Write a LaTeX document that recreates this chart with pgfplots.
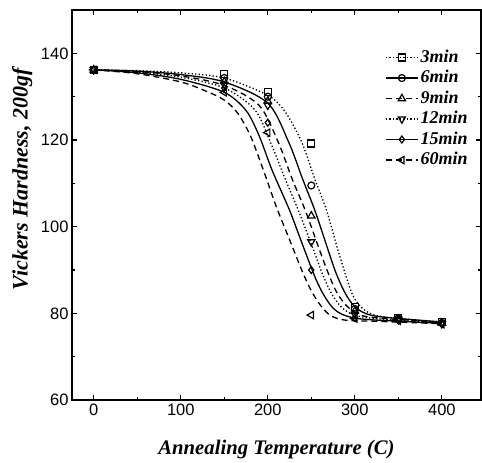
\documentclass[border=0pt]{standalone}
\usepackage{pgfplots}
\pgfplotsset{compat=1.18}
\usepackage{fontspec}
\setmainfont{Liberation Serif}
\newfontfamily\tickfont{Liberation Sans}
\tikzset{
  dotc/.style={line width=1.3pt, dash pattern=on 1.3pt off 2.2pt},
  dashc/.style={line width=1.3pt, dash pattern=on 6pt off 4pt},
  solc/.style={line width=1.3pt, solid},
}
\begin{document}
\begin{tikzpicture}
\path[use as bounding box] (0,0) rectangle (482pt,463pt);
\begin{axis}[
 at={(72pt,63pt)}, anchor=south west,
 scale only axis, width=409pt, height=390pt,
 xmin=-25, xmax=445, ymin=60, ymax=150,
 xtick={0,100,200,300,400}, ytick={60,80,100,120,140},
 minor x tick num=1, minor y tick num=1,
 tick align=inside, tick pos=both,
 major tick length=5pt, minor tick length=3pt,
 axis line style={line width=1.6pt},
 every tick/.style={line width=1.2pt, black},
 ticklabel style={font=\tickfont\fontsize{16.5}{18}\selectfont},
 /pgf/number format/assume math mode=true,
 xlabel={Annealing Temperature (C)}, ylabel={Vickers Hardness, 200gf},
 xlabel style={font=\fontsize{20.7}{22}\selectfont\bfseries\itshape, at={(axis description cs:0.5,-0.128)}, anchor=center},
 ylabel style={font=\fontsize{22}{24}\selectfont\bfseries\itshape, at={(axis description cs:-0.122,0.566)}, anchor=center},
 legend style={draw=none, fill=none, at={(axis description cs:0.758,0.91)}, anchor=north west,
   font=\fontsize{18}{20}\selectfont\bfseries\itshape,
   nodes={inner sep=2pt, text height=13pt, text depth=3.5pt}, row sep=0pt},
 legend cell align=left,
 legend image code/.code={\draw[mark repeat=2,mark phase=2,#1] plot coordinates {(0pt,0pt) (16pt,0pt) (32pt,0pt)};},
 every axis plot/.append style={black},
 mark size=3.5pt,
]
\addlegendimage{dotc, mark=square, mark options={solid, line width=1.2pt, fill=white}}
\addlegendentry{3min}
\addlegendimage{solc, mark=o, mark options={solid, line width=1.2pt, fill=white}}
\addlegendentry{6min}
\addlegendimage{dashc, mark=triangle, mark options={solid, line width=1.2pt, fill=white, scale=1.2}}
\addlegendentry{9min}
\addlegendimage{dotc, mark=triangle, mark options={solid, rotate=180, line width=1.2pt, fill=white, scale=1.2}}
\addlegendentry{12min}
\addlegendimage{solc, mark=diamond, mark options={solid, line width=1.2pt, fill=white}}
\addlegendentry{15min}
\addlegendimage{dashc, mark=triangle, mark options={solid, rotate=90, line width=1.2pt, fill=white, scale=1.2}}
\addlegendentry{60min}

% fitted curves
\addplot[dotc, smooth, forget plot] coordinates {(0,136.2) (50,136) (100,135.5) (150,134.3) (200,130.3) (220,126.5) (239,119.5) (254,111) (267.5,103.8) (280,95) (290,88.5) (298,84) (308,81.3) (320,79.8) (340,79) (400,78)};
\addplot[solc, smooth, forget plot] coordinates {(0,136.2) (50,135.9) (100,135.1) (150,133.4) (200,128.5) (224,119.5) (240,111) (254,103.8) (267,96) (278,89.5) (288,85) (297,82.2) (307,80.5) (320,79.5) (345,78.9) (400,78)};
\addplot[dashc, smooth, forget plot] coordinates {(0,136.2) (50,135.8) (100,134.8) (150,132.6) (190,128) (212,119.5) (228,111) (243,103.8) (257,96) (268,90) (278,85.3) (288,82.3) (298,80.5) (310,79.4) (335,78.8) (400,77.9)};
\addplot[dotc, smooth, forget plot] coordinates {(0,136.2) (50,135.7) (100,134.5) (150,132) (185,127) (203,119.5) (220,111) (235,103.8) (250,96) (262,89.5) (272,85) (282,82) (292,80.3) (305,79.3) (330,78.7) (400,77.8)};
\addplot[solc, smooth, forget plot] coordinates {(0,136.2) (50,135.5) (100,134) (150,131) (175,126.8) (190,121) (205,113) (225,103.8) (240,95.8) (255,88) (265,84) (275,81.2) (285,79.8) (300,78.9) (320,78.5) (350,78.2) (400,77.7)};
\addplot[dashc, smooth, forget plot] coordinates {(0,136.2) (50,135.3) (100,133.4) (130,131.2) (150,129.2) (165,126.3) (180,121) (195,113) (210,104.5) (225,97) (240,89.5) (250,85.2) (260,82) (270,79.8) (280,78.8) (295,78.3) (320,78.2) (400,77.6)};

% measured points
\addplot[only marks, mark=square, mark options={solid, line width=1.2pt, fill=white}, forget plot] coordinates {(0,136.2) (150,135.3) (200,131) (250,119.2) (300,81.5) (350,79) (400,78)};
\addplot[only marks, mark=o, mark options={solid, line width=1.2pt, fill=white}, forget plot] coordinates {(0,136.2) (150,134.3) (200,130) (250,109.5) (300,81) (350,78.8) (400,77.8)};
\addplot[only marks, mark=triangle, mark options={solid, line width=1.2pt, fill=white, scale=1.2}, forget plot] coordinates {(0,136.2) (150,133.5) (200,129) (250,102.5) (300,80.5) (350,78.7) (400,77.8)};
\addplot[only marks, mark=triangle, mark options={solid, rotate=180, line width=1.2pt, fill=white, scale=1.2}, forget plot] coordinates {(0,136.2) (150,132.8) (200,128) (250,96.5) (300,79.8) (350,78.6) (400,77.6)};
\addplot[only marks, mark=diamond, mark options={solid, line width=1.2pt, fill=white}, forget plot] coordinates {(0,136.2) (150,132) (200,124) (250,90) (300,79) (350,78.4) (400,77.5)};
\addplot[only marks, mark=triangle, mark options={solid, rotate=90, line width=1.2pt, fill=white, scale=1.2}, forget plot] coordinates {(0,136.2) (150,131) (200,121.7) (250,79.6) (300,78.8) (350,78.3) (400,77.5)};
\end{axis}
\end{tikzpicture}
\end{document}
